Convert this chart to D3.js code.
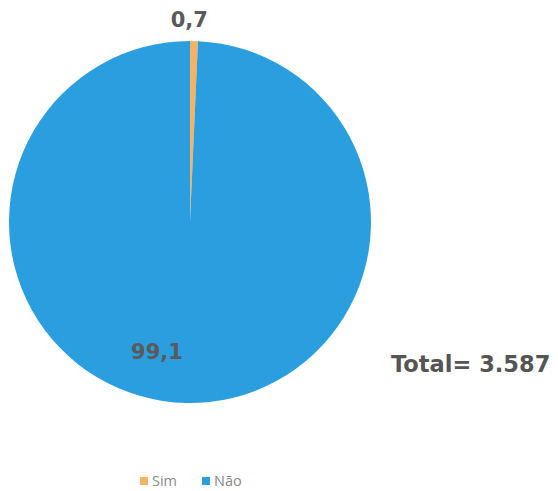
<!DOCTYPE html>
<html>
<head>
<meta charset="utf-8">
<script src="https://cdn.jsdelivr.net/npm/d3@7"></script>
<style>
  html, body { margin: 0; padding: 0; background: #fff; }
  svg { display: block; }
</style>
</head>
<body>
<svg id="chart" width="558" height="491"></svg>
<script>
// Answer categories and their shares (%)
const categories = ["Sim", "Não"];
const values = [0.7, 99.1];
const valueLabels = ["0,7", "99,1"];
const colors = ["#F5B264", "#2B9EE0"];
const totalLabel = "Total= 3.587";

const svg = d3.select("#chart");
const cx = 190, cy = 222, r = 181;

const color = d3.scaleOrdinal().domain(categories).range(colors);

const pie = d3.pie().sort(null).value(d => d.value);
const data = categories.map((c, i) => ({ cat: c, value: values[i], label: valueLabels[i] }));
const arcs = pie(data);
const arc = d3.arc().innerRadius(0).outerRadius(r);

const g = svg.append("g").attr("transform", `translate(${cx},${cy})`);

g.selectAll("path.slice")
  .data(arcs)
  .join("path")
  .attr("class", "slice")
  .attr("d", arc)
  .attr("fill", d => color(d.data.cat));

// Value labels: the tiny slice sits above the pie, the large one inside it
const labelFont = "bold 21px 'DejaVu Sans', Verdana, sans-serif";
const outerArc = d3.arc().innerRadius(r + 12).outerRadius(r + 12);

g.selectAll("text.val")
  .data(arcs)
  .join("text")
  .attr("class", "val")
  .attr("transform", d => {
    if (d.data.cat === "Sim") {
      const [x, y] = outerArc.centroid(d);
      return `translate(${x - 5},${y - 2})`;
    }
    return `translate(${-33},${137})`;
  })
  .attr("text-anchor", "middle")
  .style("font", labelFont)
  .attr("fill", "#5a5a5a")
  .text(d => d.data.label);

// Total annotation
svg.append("text")
  .attr("x", 391)
  .attr("y", 372)
  .style("font", "bold 22.5px 'DejaVu Sans', Verdana, sans-serif")
  .attr("fill", "#555555")
  .text(totalLabel);

// Legend
const legend = svg.append("g").attr("transform", "translate(140,481)");
const legendX = [0, 62];
const items = legend.selectAll("g.item")
  .data(categories)
  .join("g")
  .attr("class", "item")
  .attr("transform", (d, i) => `translate(${legendX[i]},0)`);

items.append("rect")
  .attr("x", 0).attr("y", -4)
  .attr("width", 8).attr("height", 8)
  .attr("fill", d => color(d));

items.append("text")
  .attr("x", 12).attr("y", 0)
  .attr("dy", "0.35em")
  .style("font", "14.5px 'Open Sans', 'DejaVu Sans', sans-serif")
  .attr("fill", "#8a8a8a")
  .text(d => d);
</script>
</body>
</html>
